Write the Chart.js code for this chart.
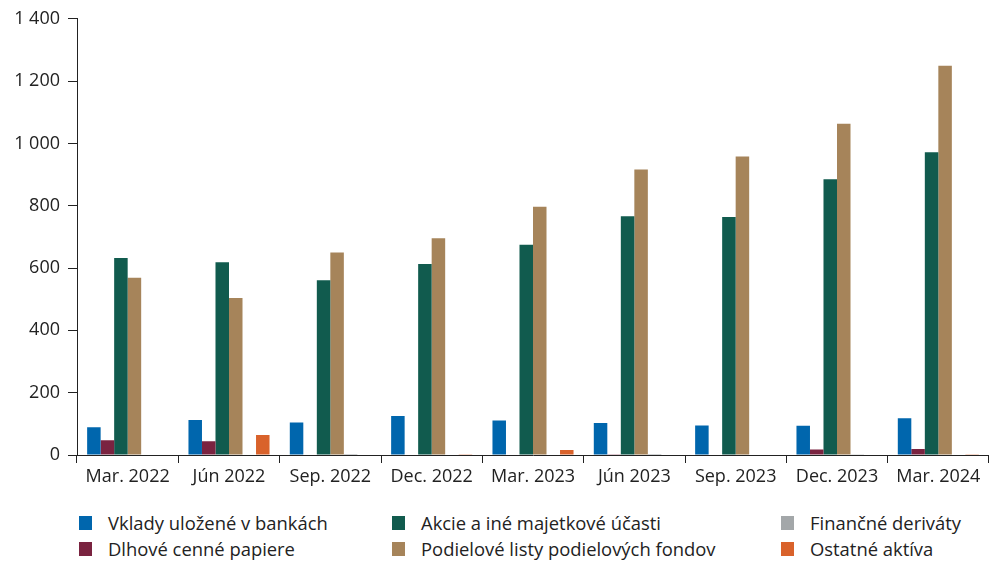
<!DOCTYPE html>
<html>
<head>
<meta charset="utf-8">
<script src="https://cdn.jsdelivr.net/npm/chart.js@4/dist/chart.umd.min.js"></script>
<style>
  html, body { margin: 0; padding: 0; background: #fff; }
  body { width: 989px; height: 561px; position: relative; overflow: hidden; font-family: "Open Sans", sans-serif; color: #222; }
  #wrap { position: absolute; left: 0; top: 0; width: 989px; height: 495px; }
  #legend { position: absolute; left: 0; top: 513px; width: 989px; height: 48px; }
  .item { position: absolute; font-size: 18.4px; line-height: 20px; white-space: nowrap; }
  .box { position: absolute; width: 13px; height: 14px; top: 3px; left: -29px; }
</style>
</head>
<body>
<div id="wrap"><canvas id="c"></canvas></div>
<div id="legend"></div>
<script>
const categories = ["Mar. 2022", "Jún 2022", "Sep. 2022", "Dec. 2022", "Mar. 2023", "Jún 2023", "Sep. 2023", "Dec. 2023", "Mar. 2024"];
const seriesNames = ["Vklady uložené v bankách", "Dlhové cenné papiere", "Akcie a iné majetkové účasti", "Podielové listy podielových fondov", "Finančné deriváty", "Ostatné aktíva"];
const vklady     = [89, 112, 104, 125, 111, 103, 95, 94, 118];
const dlhove     = [47, 44, 0, 0, 0, 1, 0, 18, 19];
const akcie      = [632, 619, 561, 613, 675, 766, 764, 885, 972];
const podielove  = [569, 504, 650, 696, 797, 916, 958, 1063, 1249];
const derivaty   = [0, 0, 3, 0, 0, 3, 0, 1, 0];
const ostatne    = [0, 64, 0, 1, 16, 0, 0, 0, 1];
const yTicks = [0, 200, 400, 600, 800, 1000, 1200, 1400];

const colors = ["#0066ad", "#7a2340", "#115b4e", "#a6845a", "#a3a7a9", "#d9622b"];
const values = [vklady, dlhove, akcie, podielove, derivaty, ostatne];

const fmt = v => String(v).replace(/\B(?=(\d{3})+(?!\d))/g, " ");

new Chart(document.getElementById("c"), {
  type: "bar",
  data: {
    labels: categories,
    datasets: seriesNames.map((n, i) => ({
      label: n, data: values[i], backgroundColor: colors[i],
      categoryPercentage: 0.8, barPercentage: 1.0, borderWidth: 0
    }))
  },
  options: {
    responsive: true, maintainAspectRatio: false, animation: false,
    layout: { padding: { top: 10, right: 0, left: 0, bottom: 0 } },
    plugins: { legend: { display: false }, tooltip: { enabled: false } },
    scales: {
      x: {
        offset: true,
        afterFit: s => { s.height = 40; },
        grid: { display: true, drawOnChartArea: false, drawTicks: true, tickLength: 8, offset: true, color: "#222", lineWidth: 1 },
        border: { display: true, color: "#222", width: 1 },
        ticks: { color: "#222", font: { family: "Open Sans", size: 18 }, padding: 3, maxRotation: 0 }
      },
      y: {
        min: 0, max: 1400,
        afterBuildTicks: s => { s.ticks = yTicks.map(v => ({ value: v })); },
        afterFit: s => { s.width = 77; },
        grid: { display: true, drawOnChartArea: false, drawTicks: true, tickLength: 9, color: "#222", lineWidth: 1 },
        border: { display: true, color: "#222", width: 1 },
        ticks: { color: "#222", font: { family: "Open Sans", size: 18 }, padding: 8, callback: v => fmt(v) }
      }
    }
  }
});

// HTML legend, 3 columns x 2 rows
const legendPos = [
  [108, 0], [108, 26],
  [421, 0], [421, 26],
  [810, 0], [810, 26]
];
const lg = document.getElementById("legend");
seriesNames.forEach((name, k) => {
  const d = document.createElement("div");
  d.className = "item";
  d.style.left = legendPos[k][0] + "px";
  d.style.top = legendPos[k][1] + "px";
  const b = document.createElement("span");
  b.className = "box";
  b.style.background = colors[k];
  d.appendChild(b);
  d.appendChild(document.createTextNode(name));
  lg.appendChild(d);
});
</script>
</body>
</html>
